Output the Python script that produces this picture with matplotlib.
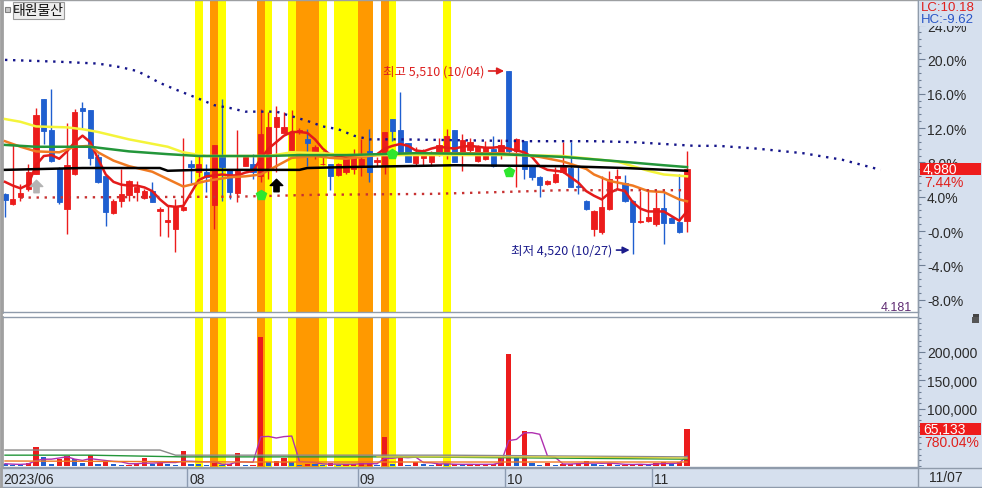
import matplotlib
matplotlib.use('Agg')
import matplotlib.pyplot as plt
import matplotlib.transforms as mtransforms
from matplotlib.patches import Rectangle
from matplotlib.lines import Line2D
from matplotlib.path import Path
import numpy as np
import pandas as pd

plt.rcParams['font.family'] = ['Noto Sans CJK KR', 'DejaVu Sans']
NUM_FONT = ['Liberation Sans Narrow', 'Liberation Sans', 'DejaVu Sans']

# ---------------- data ----------------
stock_name = '태원물산'
opens = [4845, 4790, 4830, 4870, 4950, 5360, 5190, 4985, 4765, 4950,
         5310, 5300, 5045, 4940, 4740, 4805, 4840, 4855, 4825, 4860,
         4750, 4695, 4655, 4760, 5005, 4965, 4965, 4785, 5050, 4975,
         4850, 4995, 5005, 4940, 4980, 5205, 5175, 5080, 5180, 5140,
         5050, 5005, 5005, 4945, 4965, 4980, 4995, 5075, 5020, 5000,
         5250, 5190, 5120, 5010, 5040, 5020, 5070, 5070, 5190, 5065,
         5080, 5025, 5035, 5090, 5060, 5510, 5075, 5130, 4995, 4935,
         4900, 4910, 4965, 4985, 4885, 4805, 4655, 4640, 4765, 4930,
         4905, 4805, 4695, 4700, 4680, 4770, 4715, 4695, 4700]
highs = [4850, 5110, 4900, 5005, 5310, 5360, 5410, 4990, 5230, 5305,
         5340, 5300, 5060, 4945, 4815, 4980, 4920, 4915, 4870, 4910,
         4775, 4780, 4815, 5145, 5030, 5050, 5005, 5110, 5360, 4980,
         5190, 5045, 5060, 5305, 5290, 5320, 5290, 5300, 5200, 5195,
         5110, 5075, 5005, 5010, 5040, 5090, 5140, 5195, 5045, 5180,
         5250, 5395, 5120, 5100, 5090, 5075, 5150, 5195, 5190, 5170,
         5150, 5110, 5130, 5160, 5140, 5510, 5150, 5130, 5000, 4940,
         4920, 4990, 5125, 5125, 4990, 4810, 4760, 4940, 4970, 4980,
         4945, 4810, 4860, 4870, 4860, 4855, 4720, 4950, 5075]
lows = [4720, 4785, 4805, 4860, 4950, 5115, 5020, 4790, 4630, 4945,
        5195, 5000, 4905, 4670, 4735, 4775, 4805, 4805, 4815, 4800,
        4615, 4610, 4530, 4750, 4905, 4935, 4855, 4655, 4805, 4815,
        4800, 4995, 4925, 4910, 4925, 4965, 5175, 5080, 5170, 4995,
        5035, 5000, 4865, 4940, 4955, 4950, 4940, 4910, 4995, 4950,
        5130, 5060, 5020, 4995, 4995, 4995, 5050, 5035, 5020, 4970,
        5060, 5020, 5030, 4990, 5035, 5060, 4880, 4925, 4920, 4830,
        4895, 4905, 4960, 4880, 4845, 4760, 4615, 4630, 4760, 4870,
        4800, 4520, 4690, 4695, 4670, 4575, 4685, 4635, 4640]
closes = [4810, 4815, 4850, 4965, 5270, 5185, 5025, 4800, 5000, 5290,
          5295, 5040, 4910, 4745, 4805, 4845, 4915, 4880, 4860, 4800,
          4765, 4705, 4775, 4775, 4990, 5005, 4935, 5110, 4990, 4855,
          4970, 5045, 4965, 5170, 5205, 5260, 5205, 5180, 5190, 5120,
          5100, 5005, 4940, 5005, 5035, 5045, 5035, 4965, 5030, 5180,
          5185, 5060, 5020, 5060, 5065, 5055, 5110, 5160, 5020, 5135,
          5125, 5100, 5100, 4995, 5110, 5075, 5140, 4980, 4935, 4895,
          4915, 4950, 4990, 4880, 4880, 4765, 4750, 4775, 4925, 4940,
          4805, 4695, 4700, 4720, 4770, 4690, 4690, 4640, 4980]
volumes = [4000, 2500, 2000, 6000, 33000, 16000, 3000, 12000, 17000, 12000,
           5000, 19000, 3000, 9000, 4000, 1500, 2500, 3000, 14000, 4000,
           6000, 4000, 2500, 26000, 3000, 2800, 2000, 5000, 2500, 3500,
           23000, 1500, 2000, 226000, 7000, 8800, 14000, 7000, 2000, 4000,
           3500, 2000, 5000, 2000, 3000, 4000, 5000, 6000, 2000, 51000,
           4000, 14000, 2000, 7000, 3000, 2000, 4000, 3000, 3500, 2000,
           2500, 3000, 3500, 4000, 16000, 196000, 14000, 61000, 5000, 2000,
           5000, 2000, 4000, 4200, 6000, 8000, 4000, 1500, 6000, 1000,
           2000, 3000, 3500, 2500, 6000, 7000, 3000, 7400, 65133]

# moving averages
ma5 = [4910, 4890, 4875, 4895, 5000, 5050, 5055, 5035, 5075, 5125,
       5160, 5125, 5035, 4950, 4910, 4895, 4890, 4890, 4880, 4860,
       4815, 4780, 4775, 4780, 4850, 4920, 4940, 4945, 4950, 4945,
       4945, 4960, 4970, 5035, 5090, 5125, 5160, 5180, 5180, 5175,
       5140, 5090, 5055, 5050, 5045, 5045, 5050, 5055, 5060, 5090,
       5105, 5115, 5105, 5080, 5075, 5090, 5100, 5095, 5090, 5100,
       5105, 5100, 5095, 5095, 5100, 5090, 5080, 5070, 5045, 4995,
       4975, 4970, 4965, 4935, 4905, 4860, 4835, 4815, 4850, 4870,
       4860, 4800, 4765, 4750, 4750, 4750, 4725, 4700, 4750]
ma20_idx = [0, 2, 4, 7, 9, 11, 12, 14, 16, 19, 21, 23, 24, 26, 29, 31, 33, 35,
            37, 40, 42, 44, 48, 53, 59, 64, 66, 69, 72, 75, 76, 78, 81, 83, 85, 87, 88]
ma20_val = [5130, 5100, 5075, 5070, 5100, 5105, 5070, 5025, 4995, 4965, 4925, 4885,
            4895, 4915, 4935, 4940, 4950, 4995, 5040, 5050, 5040, 5035, 5055, 5065,
            5065, 5065, 5060, 5045, 5020, 4980, 4950, 4915, 4890, 4860, 4855, 4815, 4805]
ma60_idx = [0, 2, 4, 8, 10, 12, 16, 21, 23, 26, 29, 34, 37, 41, 44, 50, 60, 66, 72, 79, 83, 85, 88]
ma60_val = [5250, 5235, 5210, 5205, 5195, 5180, 5140, 5100, 5070, 5050, 5050, 5050,
            5070, 5065, 5055, 5055, 5055, 5055, 5050, 5020, 4970, 4950, 4940]
ma120_idx = [0, 4, 8, 11, 16, 21, 25, 29, 34, 38, 44, 53, 64, 72, 78, 85, 88]
ma120_val = [5110, 5100, 5100, 5100, 5075, 5060, 5050, 5050, 5050, 5055, 5055, 5065,
             5060, 5045, 5025, 5000, 4990]
base_idx = [0, 10, 20, 21, 25, 38, 39, 44, 58, 72, 80, 88]
base_val = [4975, 4985, 4985, 4970, 4975, 4975, 4985, 4990, 5000, 4995, 4985, 4970]
upper_idx = [0, 7, 12, 15, 17, 18, 20, 22, 25, 27, 29, 31, 35, 37, 39, 41, 43, 45, 47,
             51, 59, 68, 76, 81, 85, 89, 92, 97, 103, 108, 113]
upper_val = [5570, 5560, 5550, 5530, 5510, 5490, 5445, 5410, 5360, 5325, 5310, 5290,
             5290, 5265, 5240, 5210, 5195, 5160, 5140, 5140, 5135, 5130, 5130, 5125,
             5115, 5105, 5105, 5090, 5065, 5030, 4975]
lower_idx = [2, 30, 40, 55, 64, 72, 88]
lower_val = [4825, 4830, 4840, 4845, 4855, 4865, 4865]

vol_gray_idx = [0, 20, 22, 57, 88]
vol_gray_val = [28000, 28000, 19000, 19000, 16000]
vol_green_idx = [0, 11, 23, 51, 88]
vol_green_val = [19000, 19000, 16000, 16000, 12000]
vol_orange_idx = [0, 32, 64, 88]
vol_orange_val = [8800, 7000, 7000, 7000]
vol_yellow_idx = [48, 70, 88]
vol_yellow_val = [16000, 16000, 14000]

yellow_band_idx = [25, 28, 34, 37, 41, 43, 44, 45, 50, 57]
orange_band_idx = [27, 33, 38, 39, 40, 46, 47, 49]

up_arrow_idx = [4, 35]
up_arrow_val = [4887, 4893]
up_arrow_col = ['#b4b4b4', '#000000']
signal_idx = [33, 50, 65]
signal_val = [4839, 5060, 4963]

month_idx = [0, 24, 46, 65, 84]
month_labels = ['2023/06', '08', '09', '10', '11']
last_date = '11/07'
high_date = '10/04'
low_date = '10/27'

base_price = 4644
pct_ticks = [-8, -4, 0, 4, 8, 12, 16, 20, 24]
pct_labels = ['-8.0%', '-4.0%', '-0.0%', '4.0%', '8.0%', '12.0%', '16.0%', '20.0%', '24.0%']
vol_ticks = [100000, 150000, 200000]
lc_text = 'LC:10.18'
hc_text = 'HC:-9.62'
chg_text = '7.44%'
vol_chg_text = '780.04%'
side_value = '4.181'

# ---------------- figure ----------------
W, H = 982, 489
fig = plt.figure(figsize=(W / 100, H / 100), dpi=100)
fig.patch.set_facecolor('white')


def fx(px):
    return px / W


def fy(py):
    return 1 - py / H


STRIP = '#d6e0ee'
RED = '#ec1c1c'
BLUE = '#1f5fd0'
YEL = '#ffff00'
ORG = '#ff9900'
EDGE = '#8f9bab'

fig.add_artist(Rectangle((fx(918), 0), 1 - fx(918), 1, transform=fig.transFigure,
                         facecolor=STRIP, edgecolor='none', zorder=-5))
fig.add_artist(Rectangle((0, fy(488)), 1, fy(469) - fy(488), transform=fig.transFigure,
                         facecolor=STRIP, edgecolor='none', zorder=-5))

PX = 7.75
xlim = (-(5 - 2) / PX, (918 - 5) / PX)

axp = fig.add_axes([fx(2), fy(313), fx(918) - fx(2), fy(1) - fy(313)])
axv = fig.add_axes([fx(2), fy(468), fx(918) - fx(2), fy(318) - fy(468)])
axd = fig.add_axes([fx(2), fy(488), fx(918) - fx(2), fy(469) - fy(488)])

for ax in (axp, axv):
    ax.set_xlim(*xlim)
    for i in yellow_band_idx:
        ax.axvspan(i - 0.5, i + 0.5, color=YEL, lw=0, zorder=0)
    for i in orange_band_idx:
        ax.axvspan(i - 0.5, i + 0.5, color=ORG, lw=0, zorder=0)
    ax.set_xticks([])
    for s in ax.spines.values():
        s.set_color(EDGE)
        s.set_linewidth(1)
    ax.spines['left'].set_color('#a0a0a0')
    ax.spines['left'].set_linewidth(2)
    ax.yaxis.tick_right()

# candles
o = np.array(opens, float)
c = np.array(closes, float)
hh = np.array(highs, float)
ll = np.array(lows, float)
xi = np.arange(len(c))
cols = np.where(c >= o, RED, BLUE)
axp.vlines(xi, ll, hh, colors=cols, lw=1.0, zorder=2)
axp.bar(xi, np.abs(c - o), bottom=np.minimum(o, c), width=0.66, color=cols,
        edgecolor=cols, linewidth=0.6, zorder=2)

# lines
axp.plot(np.arange(len(ma5)), ma5, color='#e41a1a', lw=1.8, zorder=3)
axp.plot(ma20_idx, ma20_val, color='#f07a22', lw=1.8, zorder=3)
axp.plot(ma60_idx, ma60_val, color='#f4f43a', lw=1.8, zorder=3)
axp.plot(ma120_idx, ma120_val, color='#23963a', lw=1.8, zorder=3)
axp.plot(base_idx, base_val, color='#000000', lw=1.8, zorder=3)
axp.plot(upper_idx, upper_val, color='#14148a', lw=1.7, linestyle=(0, (1, 2.4)),
         dash_capstyle='butt', zorder=3)
axp.plot(lower_idx, lower_val, color='#c83232', lw=1.7, linestyle=(0, (1, 2.4)),
         dash_capstyle='butt', zorder=3)

arrow_path = Path([(0, 1), (1, 0), (0.42, 0), (0.42, -1), (-0.42, -1), (-0.42, 0), (-1, 0), (0, 1)],
                  [Path.MOVETO] + [Path.LINETO] * 6 + [Path.CLOSEPOLY])
for i, v, col in zip(up_arrow_idx, up_arrow_val, up_arrow_col):
    axp.plot([i], [v], marker=arrow_path, ms=9, color=col, mec=col, zorder=4)
axp.plot(signal_idx, signal_val, linestyle='none', marker='p', ms=7, color='#2ee62e',
         mec='#2ee62e', zorder=4)

axp.set_ylim(4206, 5894)
axp.set_yticks([base_price * (1 + p / 100) for p in pct_ticks])
axp.set_yticklabels(pct_labels)
axp.set_yticks([base_price * (1 + p / 100) for p in np.arange(-8.8, 25.0, 0.8)], minor=True)
for ax in (axp, axv):
    ax.tick_params(axis='y', which='major', direction='out', length=5, width=0.8,
                   color='#6f7f95', pad=1.5, labelsize=10, labelcolor='#2a2a2a')
    ax.tick_params(axis='y', which='minor', direction='out', length=2.5, width=0.8,
                   color='#6f7f95')
for lbl in axp.get_yticklabels():
    lbl.set_fontfamily(NUM_FONT)

# high / low annotations
hi_i = int(np.argmax(hh))
lo_i = int(np.argmin(ll))
red_t = '#dd1f1f'
navy_t = '#1c1c8c'
axp.text(hi_i - 3.2, hh[hi_i], f'최고 {int(hh[hi_i]):,} ({high_date})', color=red_t,
         ha='right', va='center', fontsize=9, zorder=5)
axp.annotate('', xy=(hi_i - 0.6, hh[hi_i]), xytext=(hi_i - 2.6, hh[hi_i]),
             arrowprops=dict(arrowstyle='-|>', color=red_t, lw=1.2, mutation_scale=10,
                             shrinkA=0, shrinkB=0), zorder=5)
lo_y = ll[lo_i] + 21
axp.text(lo_i - 2.6, lo_y, f'최저 {int(ll[lo_i]):,} ({low_date})', color=navy_t,
         ha='right', va='center', fontsize=9, zorder=5)
axp.annotate('', xy=(lo_i - 0.4, lo_y), xytext=(lo_i - 2.1, lo_y),
             arrowprops=dict(arrowstyle='-|>', color=navy_t, lw=1.2, mutation_scale=10,
                             shrinkA=0, shrinkB=0), zorder=5)
axp.text(117.0, 4233, side_value, color='#5e2a72', ha='right', va='center', fontsize=9,
         fontfamily=NUM_FONT)

# volume
vols = np.array(volumes, float)
vcols = [BLUE] + [RED if vols[i] >= vols[i - 1] else BLUE for i in range(1, len(vols))]
axv.bar(np.arange(len(vols)), vols, width=0.66, color=vcols, zorder=2)
vol_ma5 = pd.Series(vols).rolling(5, min_periods=1).mean()
axv.plot(np.arange(len(vols)), vol_ma5, color='#b030b0', lw=1.0, zorder=3)
axv.plot(vol_gray_idx, vol_gray_val, color='#8a8a8a', lw=1.0, zorder=3)
axv.plot(vol_green_idx, vol_green_val, color='#23963a', lw=1.0, zorder=3)
axv.plot(vol_orange_idx, vol_orange_val, color='#f07a22', lw=1.0, zorder=3)
axv.plot(vol_yellow_idx, vol_yellow_val, color='#d8d040', lw=1.0, zorder=3)
axv.set_ylim(-1750, 261300)
axv.set_yticks(vol_ticks)
axv.set_yticklabels([f'{v:,}' for v in vol_ticks])
axv.set_yticks(np.arange(0, 261000, 10000), minor=True)
for lbl in axv.get_yticklabels():
    lbl.set_fontfamily(NUM_FONT)

# date strip
axd.set_xlim(*xlim)
axd.set_ylim(0, 1)
axd.axis('off')
for i, lab in zip(month_idx, month_labels):
    axd.axvline(i - 0.5, color='#8d9cb2', lw=1)
    axd.text(i - 0.5 + 0.25, 0.42, lab, ha='left', va='center', fontsize=10,
             color='#2a2a2a', fontfamily=NUM_FONT)
fig.text(fx(929), fy(478), last_date, ha='left', va='center', fontsize=10, color='#2a2a2a',
         fontfamily=NUM_FONT)

# frame lines
for (x0, y0, x1, y1, col, lw) in [(0, 0.5, 982, 0.5, '#a0a0a0', 1.2),
                                   (918, 0, 918, 489, EDGE, 1),
                                   (0, 469, 982, 469, EDGE, 1),
                                   (0, 488, 982, 488, EDGE, 1),
                                   (1, 0, 1, 489, '#a0a0a0', 2)]:
    fig.add_artist(Line2D([fx(x0), fx(x1)], [fy(y0), fy(y1)], transform=fig.transFigure,
                          color=col, lw=lw, zorder=6))

# right side boxes
trp = mtransforms.blended_transform_factory(fig.transFigure, axp.transData)
ppx = (5894 - 4206) / 312
fig.add_artist(Rectangle((fx(920), c[-1] - 6 * ppx), fx(981) - fx(920), 12 * ppx,
                         transform=trp, facecolor='#ee1c1c', edgecolor='none', zorder=7))
fig.text(fx(923), c[-1], f'{int(c[-1]):,}', transform=trp, color='white', ha='left',
         va='center', fontsize=10, fontfamily=NUM_FONT, zorder=8)
fig.text(fx(924), c[-1] - 13.5 * ppx, chg_text, transform=trp, color='#e0201c', ha='left',
         va='center', fontsize=10, fontfamily=NUM_FONT, zorder=8)

trv = mtransforms.blended_transform_factory(fig.transFigure, axv.transData)
vpx = (261300 + 1750) / 150
fig.add_artist(Rectangle((fx(920), vols[-1] - 6 * vpx), fx(981) - fx(920), 12 * vpx,
                         transform=trv, facecolor='#ee1c1c', edgecolor='none', zorder=7))
fig.text(fx(923), vols[-1], f'{int(vols[-1]):,}', transform=trv, color='white', ha='left',
         va='center', fontsize=10, fontfamily=NUM_FONT, zorder=8)
fig.text(fx(924), vols[-1] - 13.5 * vpx, vol_chg_text, transform=trv, color='#e0201c',
         ha='left', va='center', fontsize=10, fontfamily=NUM_FONT, zorder=8)

fig.add_artist(Rectangle((fx(919), fy(27)), fx(981) - fx(919), fy(2) - fy(27),
                         transform=fig.transFigure, facecolor=STRIP, edgecolor='none', zorder=7))
fig.text(fx(921), fy(8), lc_text, color='#e0201c', ha='left', va='center', fontsize=9.5,
         fontfamily=NUM_FONT, zorder=8)
fig.text(fx(921), fy(20), hc_text, color='#2a56c6', ha='left', va='center', fontsize=9.5,
         fontfamily=NUM_FONT, zorder=8)

# small icons
fig.add_artist(Rectangle((fx(972), fy(324)), fx(7), fy(0) - fy(6), transform=fig.transFigure,
                         facecolor='#555555', edgecolor='none', zorder=7))
fig.add_artist(Rectangle((fx(973), fy(318)), fx(6), fy(0) - fy(3), transform=fig.transFigure,
                         facecolor='#444444', edgecolor='none', zorder=7))

# name label
fig.add_artist(Rectangle((fx(5), fy(13)), fx(5), fy(0) - fy(5), transform=fig.transFigure,
                         facecolor='#c8c8c8', edgecolor='#808080', lw=0.8, zorder=7))
fig.add_artist(Rectangle((fx(13), fy(20)), fx(51), fy(0) - fy(17), transform=fig.transFigure,
                         facecolor='#ededed', edgecolor='#9a9a9a', lw=0.8, zorder=7))
fig.text(fx(38.5), fy(11.5), stock_name, ha='center', va='center', fontsize=10,
         color='#111111', zorder=8)

fig.savefig('out.png', dpi=100, facecolor='white')
